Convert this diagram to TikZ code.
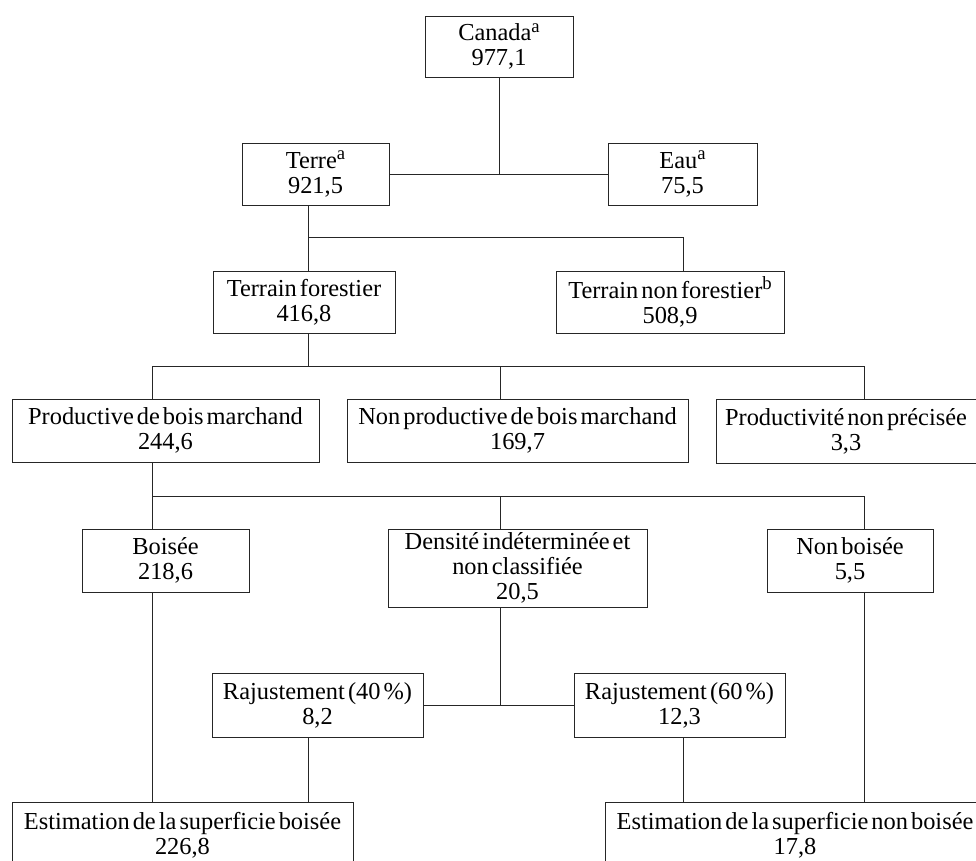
\documentclass[tikz,border=0pt]{standalone}
\usepackage{fontspec}
\setmainfont{Liberation Serif}[WordSpace=0.5]
\usetikzlibrary{fit,calc}

\newcommand{\note}[1]{\raisebox{0.75ex}{\fontsize{14}{14}\selectfont #1}}

\begin{document}
\begin{tikzpicture}[x=0.75pt,y=-0.75pt,
    box/.style={draw=black!85, line width=0.7pt, inner sep=0pt},
    lbl/.style={align=center, inner sep=0pt, font=\fontsize{18.3}{18.8}\selectfont},
    link/.style={draw=black!85, line width=0.7pt}]

\useasboundingbox (0,0) rectangle (976,861);

% columns of the connectors
\coordinate (colA) at (152,0);
\coordinate (colB) at (308,0);
\coordinate (colC) at (500,0);
\coordinate (colD) at (683,0);
\coordinate (colE) at (864,0);

    \begin{scope} % Boxes
        \node[box, fit={(425,16) (573,77)}, label={[lbl]center:Canada\note{a}\\977,1}] (canada) {};
        \node[box, fit={(242,143) (389,205)}, label={[lbl]center:Terre\note{a}\\921,5}] (terre) {};
        \node[box, fit={(608,143) (757,205)}, label={[lbl]center:Eau\note{a}\\75,5}] (eau) {};
        \node[box, fit={(213,271) (395,333)}, label={[lbl]center:Terrain forestier\\416,8}] (tforest) {};
        \node[box, fit={(556,271) (784,333)}, label={[lbl]center:Terrain non forestier\note{b}\\508,9}] (tnonforest) {};
        \node[box, fit={(12,399) (319,462)}, label={[lbl]center:Productive de bois marchand\\244,6}] (prod) {};
        \node[box, fit={(347,399) (688,462)}, label={[lbl]center:Non productive de bois marchand\\169,7}] (nonprod) {};
        \node[box, fit={(716,399) (1000,463)}] (nonprec) {};
        \node[lbl] at (846,431) {Productivité non précisée\\3,3};
        \node[box, fit={(82,529) (249,592)}, label={[lbl]center:Boisée\\218,6}] (boisee) {};
        \node[box, fit={(388,529) (647,607)}, label={[lbl]center:Densité indéterminée et\\non classifiée\\20,5}] (densite) {};
        \node[box, fit={(767,529) (933,592)}, label={[lbl]center:Non boisée\\5,5}] (nonboisee) {};
        \node[box, fit={(212,673) (423,737)}, label={[lbl]center:Rajustement (40 \%)\\8,2}] (raj40) {};
        \node[box, fit={(574,673) (785,737)}, label={[lbl]center:Rajustement (60 \%)\\12,3}] (raj60) {};
        \node[box, fit={(12,802) (353,868)}, label={[lbl]center:Estimation de la superficie boisée\\226,8}] (estb) {};
        \node[box, fit={(605,802) (990,868)}] (estnb) {};
        \node[lbl] at (795,835) {Estimation de la superficie non boisée\\17,8};
    \end{scope}

    \begin{scope} % Connectors
        \draw[link] (canada.south) -- (canada.south |- terre.east);
        \draw[link] (terre.east) -- (eau.west);

        \draw[link] (terre.south -| colB) -- (colB |- tforest.north);
        \draw[link] (colB |- 0,237) -- (colD |- 0,237) -- (colD |- tnonforest.north);

        \draw[link] (tforest.south -| colB) -- (colB |- 0,366);
        \draw[link] (colA |- prod.north) -- (colA |- 0,366) -- (colE |- 0,366) -- (colE |- nonprec.north);
        \draw[link] (colC |- 0,366) -- (colC |- nonprod.north);

        \draw[link] (prod.south -| colA) -- (colA |- boisee.north);
        \draw[link] (colA |- 0,496) -- (colE |- 0,496) -- (colE |- nonboisee.north);
        \draw[link] (colC |- 0,496) -- (colC |- densite.north);

        \draw[link] (densite.south -| colC) -- (colC |- raj40.east);
        \draw[link] (raj40.east) -- (raj60.west);

        \draw[link] (boisee.south -| colA) -- (colA |- estb.north);
        \draw[link] (raj40.south -| colB) -- (colB |- estb.north);
        \draw[link] (raj60.south -| colD) -- (colD |- estnb.north);
        \draw[link] (nonboisee.south -| colE) -- (colE |- estnb.north);
    \end{scope}

\end{tikzpicture}
\end{document}
